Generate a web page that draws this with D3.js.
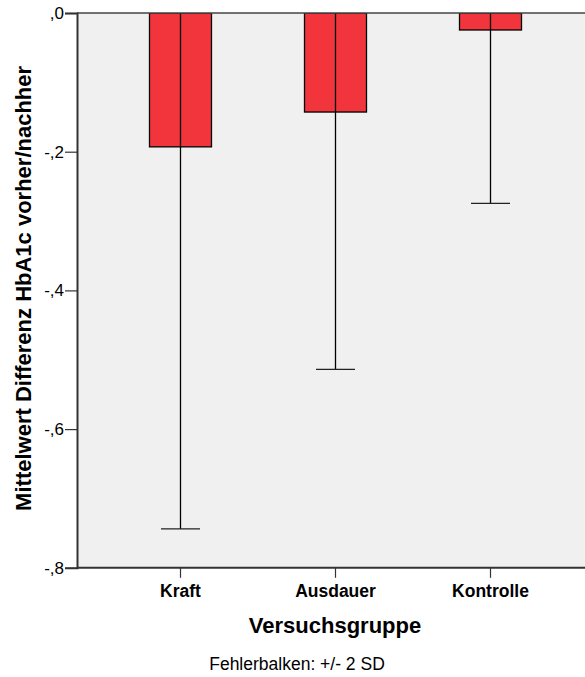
<!DOCTYPE html>
<html><head><meta charset="utf-8">
<script src="https://cdn.jsdelivr.net/npm/d3@7/dist/d3.min.js"></script>
<style>body{margin:0;background:#fff;}svg{display:block;font-family:"Liberation Sans",Arial,sans-serif;}</style>
</head><body>
<script>
const categories = ["Kraft", "Ausdauer", "Kontrolle"];
const means = [-0.193, -0.1428, -0.0245];
const sds = [0.2755, 0.1856, 0.125];
const yTicks = [0, -0.2, -0.4, -0.6, -0.8];
const yTickLabels = [",0", "-,2", "-,4", "-,6", "-,8"];
const xTitle = "Versuchsgruppe";
const yTitle = "Mittelwert Differenz HbA1c vorher/nachher";
const footnote = "Fehlerbalken: +/- 2 SD";

const W = 585, H = 677;
const pLeft = 77, pTop = 13, pBottom = 567.8, pRightExt = 594;
const svg = d3.select("body").append("svg").attr("width", W).attr("height", H);

const y = d3.scaleLinear().domain([0, -0.8]).range([pTop, pBottom]);
const x = d3.scaleBand().domain(categories).range([pLeft, pRightExt]).paddingInner(0.6).paddingOuter(0.4677);

svg.append("defs").append("clipPath").attr("id", "clip")
  .append("rect").attr("x", pLeft).attr("y", pTop).attr("width", pRightExt - pLeft).attr("height", pBottom - pTop);

svg.append("rect").attr("x", pLeft).attr("y", pTop).attr("width", pRightExt - pLeft).attr("height", pBottom - pTop).attr("fill", "#f0f0f0");

const g = svg.append("g").attr("clip-path", "url(#clip)");
const data = categories.map((c, i) => ({c, m: means[i], sd: sds[i]}));

g.selectAll("rect.bar").data(data).join("rect").attr("class", "bar")
  .attr("x", d => x(d.c)).attr("width", x.bandwidth())
  .attr("y", d => y(0)).attr("height", d => y(d.m) - y(0))
  .attr("fill", "#f2343d").attr("stroke", "#000").attr("stroke-width", 1.3);

g.selectAll("line.err").data(data).join("line").attr("class", "err")
  .attr("x1", d => x(d.c) + x.bandwidth() / 2).attr("x2", d => x(d.c) + x.bandwidth() / 2)
  .attr("y1", d => y(d.m + 2 * d.sd)).attr("y2", d => y(d.m - 2 * d.sd))
  .attr("stroke", "#000").attr("stroke-width", 1.3);

g.selectAll("line.cap").data(data).join("line").attr("class", "cap")
  .attr("x1", d => x(d.c) + x.bandwidth() / 2 - 19.5).attr("x2", d => x(d.c) + x.bandwidth() / 2 + 19.5)
  .attr("y1", d => y(d.m - 2 * d.sd)).attr("y2", d => y(d.m - 2 * d.sd))
  .attr("stroke", "#222").attr("stroke-width", 1.3);

svg.append("line").attr("x1", pLeft).attr("x2", W).attr("y1", pTop).attr("y2", pTop)
  .attr("stroke", "#444").attr("stroke-width", 1.5);

const yAxis = d3.axisLeft(y).tickValues(yTicks).tickSize(12).tickPadding(1)
  .tickFormat((d, i) => yTickLabels[i]);
const ya = svg.append("g").attr("transform", `translate(${pLeft},0)`).call(yAxis);
ya.attr("font-size", null).attr("font-family", null);
ya.select(".domain").attr("stroke", "#333").attr("stroke-width", 2);
ya.selectAll(".tick line").attr("stroke", "#333").attr("stroke-width", 1.2);
ya.selectAll(".tick text").style("font-size", "17px").attr("fill", "#000");

const xAxis = d3.axisBottom(x).tickSize(10).tickPadding(7).tickSizeOuter(0);
const xa = svg.append("g").attr("transform", `translate(0,${pBottom})`).call(xAxis);
xa.attr("font-size", null).attr("font-family", null);
xa.select(".domain").attr("stroke", "#333").attr("stroke-width", 2).attr("d", `M${pLeft},0H${W}`);
xa.selectAll(".tick line").attr("stroke", "#333").attr("stroke-width", 1.2);
xa.selectAll(".tick text").style("font-size", "17.5px").style("font-weight", "bold").attr("fill", "#000");

svg.append("text").attr("x", 335).attr("y", 633).attr("text-anchor", "middle")
  .style("font-size", "22px").style("font-weight", "bold").text(xTitle);

svg.append("text").attr("transform", `translate(31,${(pTop + pBottom) / 2 - 2}) rotate(-90)`)
  .attr("text-anchor", "middle").style("font-size", "22px").style("font-weight", "bold").text(yTitle);

svg.append("text").attr("x", 297).attr("y", 670).attr("text-anchor", "middle")
  .style("font-size", "17.5px").text(footnote);
</script>
</body></html>
